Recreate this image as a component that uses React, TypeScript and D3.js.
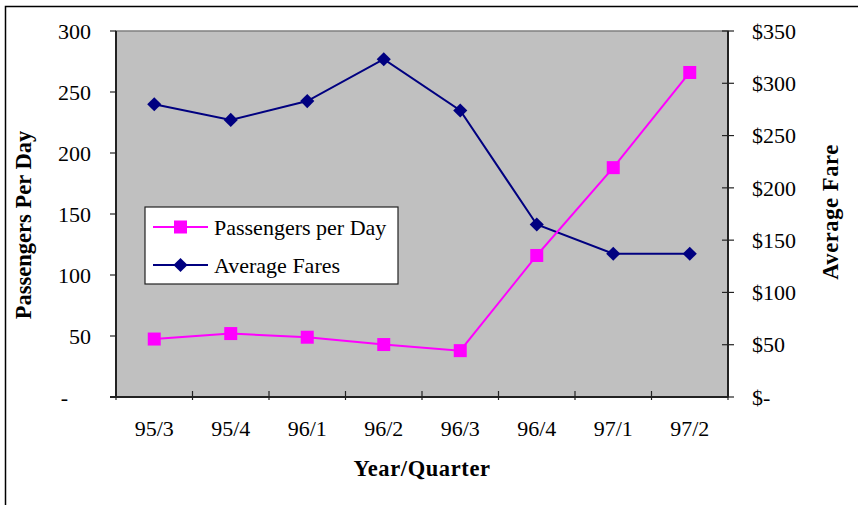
import React, { useRef, useEffect } from 'react';
import * as d3 from 'd3';

const quarters = ['95/3', '95/4', '96/1', '96/2', '96/3', '96/4', '97/1', '97/2'];
const passengers = [47.5, 52, 49, 43, 38, 116, 188, 266];
const fares = [280, 265, 283, 323, 274, 165, 137, 137];
const leftTicks = [0, 50, 100, 150, 200, 250, 300];
const rightTicks = [0, 50, 100, 150, 200, 250, 300, 350];

const W = 858;
const H = 505;
const m = { left: 116, top: 31, right: 728, bottom: 397 };
const font = '"Liberation Serif", "Times New Roman", serif';
const fs = 22;
const titleFs = 22.5;

const App = () => {
  const svgRef = useRef<SVGSVGElement>(null);

  useEffect(() => {
    const svg = d3.select(svgRef.current);
    svg.selectAll('*').remove();

    const x = d3.scaleBand().domain(quarters).range([m.left, m.right]);
    const yL = d3.scaleLinear().domain([0, 300]).range([m.bottom, m.top]);
    const yR = d3.scaleLinear().domain([0, 350]).range([m.bottom, m.top]);
    const cx = (i: number) => x(quarters[i])! + x.bandwidth() / 2;

    // outer frame
    svg.append('rect').attr('x', 5.5).attr('y', 6.5).attr('width', W + 10).attr('height', H + 10)
      .attr('fill', 'white').attr('stroke', 'black').attr('stroke-width', 1.5);

    // plot area
    svg.append('rect').attr('x', m.left).attr('y', m.top)
      .attr('width', m.right - m.left).attr('height', m.bottom - m.top)
      .attr('fill', '#c0c0c0').attr('stroke', '#808080').attr('stroke-width', 1.5);

    // left axis
    const gl = svg.append('g');
    gl.append('line').attr('x1', m.left).attr('x2', m.left).attr('y1', m.top).attr('y2', m.bottom)
      .attr('stroke', '#222').attr('stroke-width', 2);
    leftTicks.forEach((t) => {
      gl.append('line').attr('x1', m.left - 6).attr('x2', m.left).attr('y1', yL(t)).attr('y2', yL(t))
        .attr('stroke', '#222').attr('stroke-width', 1.2);
      gl.append('text').attr('x', t === 0 ? 68 : 91).attr('y', yL(t)).attr('dy', '0.35em')
        .attr('text-anchor', 'end').attr('font-size', fs).attr('font-family', font)
        .text(t === 0 ? '-' : String(t));
    });

    // right axis
    const gr = svg.append('g');
    gr.append('line').attr('x1', m.right).attr('x2', m.right).attr('y1', m.top).attr('y2', m.bottom)
      .attr('stroke', '#222').attr('stroke-width', 2);
    rightTicks.forEach((t) => {
      gr.append('line').attr('x1', m.right - 6).attr('x2', m.right + 6).attr('y1', yR(t)).attr('y2', yR(t))
        .attr('stroke', '#222').attr('stroke-width', 1.2);
      gr.append('text').attr('x', 752).attr('y', yR(t)).attr('dy', '0.35em')
        .attr('text-anchor', 'start').attr('font-size', fs).attr('font-family', font)
        .text(t === 0 ? '$-' : `$${t}`);
    });

    // bottom axis
    const gb = svg.append('g');
    gb.append('line').attr('x1', m.left - 6).attr('x2', m.right).attr('y1', m.bottom).attr('y2', m.bottom)
      .attr('stroke', '#222').attr('stroke-width', 2);
    quarters.forEach((q, i) => {
      const bx = x(q)!;
      gb.append('line').attr('x1', bx).attr('x2', bx).attr('y1', m.bottom - 6).attr('y2', m.bottom + 3)
        .attr('stroke', '#222').attr('stroke-width', 1.2);
      gb.append('text').attr('x', cx(i)).attr('y', 428).attr('dy', '0.35em')
        .attr('text-anchor', 'middle').attr('font-size', fs).attr('font-family', font).text(q);
    });
    gb.append('line').attr('x1', m.right).attr('x2', m.right).attr('y1', m.bottom - 6).attr('y2', m.bottom + 3)
      .attr('stroke', '#222').attr('stroke-width', 1.2);

    // axis titles
    svg.append('text').attr('x', 422).attr('y', 468).attr('dy', '0.35em').attr('text-anchor', 'middle')
      .attr('font-size', titleFs).attr('font-weight', 'bold').attr('letter-spacing', 0.6)
      .attr('font-family', font).text('Year/Quarter');
    svg.append('text').attr('transform', `translate(23, 225) rotate(-90)`).attr('dy', '0.35em')
      .attr('text-anchor', 'middle').attr('font-size', titleFs).attr('font-weight', 'bold')
      .attr('font-family', font).text('Passengers Per Day');
    svg.append('text').attr('transform', `translate(830, 212) rotate(-90)`).attr('dy', '0.35em')
      .attr('text-anchor', 'middle').attr('font-size', titleFs).attr('font-weight', 'bold')
      .attr('letter-spacing', 0.6).attr('font-family', font).text('Average Fare');

    // lines
    const lineL = d3.line<number>().x((_, i) => cx(i)).y((d) => yL(d));
    const lineR = d3.line<number>().x((_, i) => cx(i)).y((d) => yR(d));

    svg.append('path').attr('d', lineR(fares)).attr('fill', 'none').attr('stroke', '#000080').attr('stroke-width', 2);
    svg.append('path').attr('d', lineL(passengers)).attr('fill', 'none').attr('stroke', '#ff00ff').attr('stroke-width', 2);

    const diamond = d3.symbol().type(d3.symbolSquare).size(100);
    svg.selectAll('.fare').data(fares).join('path').attr('class', 'fare')
      .attr('d', diamond()).attr('fill', '#000080')
      .attr('transform', (d, i) => `translate(${cx(i)},${yR(d)}) rotate(45)`);

    svg.selectAll('.pass').data(passengers).join('rect').attr('class', 'pass')
      .attr('x', (_, i) => cx(i) - 6.5).attr('y', (d) => yL(d) - 6.5)
      .attr('width', 13).attr('height', 13).attr('fill', '#ff00ff');

    // legend
    const lg = svg.append('g');
    lg.append('rect').attr('x', 145).attr('y', 207).attr('width', 253).attr('height', 77)
      .attr('fill', 'white').attr('stroke', '#222').attr('stroke-width', 1.2);
    const rows = [
      { label: 'Passengers per Day', color: '#ff00ff', y: 227, kind: 'square' },
      { label: 'Average Fares', color: '#000080', y: 265, kind: 'diamond' },
    ];
    rows.forEach((r) => {
      lg.append('line').attr('x1', 153).attr('x2', 208).attr('y1', r.y).attr('y2', r.y)
        .attr('stroke', r.color).attr('stroke-width', 2);
      if (r.kind === 'square') {
        lg.append('rect').attr('x', 174).attr('y', r.y - 6.5).attr('width', 13).attr('height', 13)
          .attr('fill', r.color);
      } else {
        lg.append('path').attr('d', diamond()).attr('fill', r.color)
          .attr('transform', `translate(180.5,${r.y}) rotate(45)`);
      }
      lg.append('text').attr('x', 214).attr('y', r.y).attr('dy', '0.35em').attr('font-size', fs)
        .attr('font-family', font).text(r.label);
    });
  }, []);

  return <svg ref={svgRef} width={W} height={H} style={{ display: 'block', position: 'absolute', left: 0, top: 0 }} />;
};

export default App;
